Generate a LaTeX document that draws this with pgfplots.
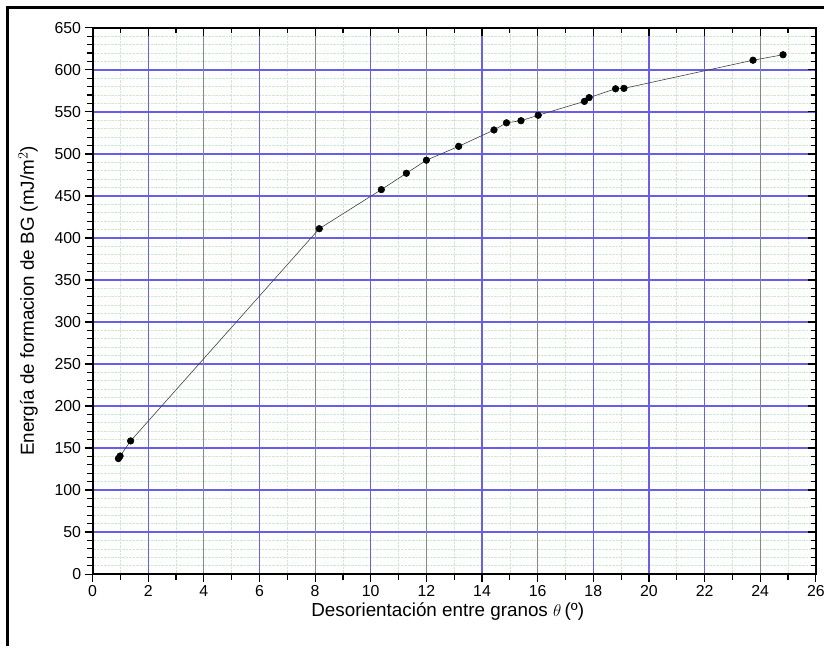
\documentclass[border=0pt]{standalone}
\usepackage{fontspec}
\setmainfont{Liberation Sans}
\usepackage{pgfplots}
\pgfplotsset{compat=1.18}
\definecolor{gridblue}{RGB}{105,95,230}
\definecolor{gridgray}{RGB}{135,135,135}
\definecolor{minorgreen}{RGB}{205,232,205}

\pgfplotstableread{
theta E
0.93 137.5
0.99 140.5
1.37 158.5
8.15 411
10.38 457.5
11.28 477
12.00 492.5
13.16 509
14.43 528.5
14.88 537
15.40 539.5
16.02 546
17.68 562.5
17.85 567
18.80 577.5
19.10 578
23.74 611.5
24.82 618
}\energia

\pgfplotsset{
  frame/.style={
    at={(93bp,72bp)}, anchor=south west,
    scale only axis, width=727bp, height=549bp,
    xmin=0, xmax=26, ymin=0, ymax=650},
  gridonly/.style={
    xticklabels={}, yticklabels={},
    axis line style={draw=none},
    major tick length=0pt,
    xmajorgrids, ymajorgrids}}

\begin{document}
\begin{tikzpicture}
\path (0,0) rectangle (828bp,649bp);
\draw[line width=3bp] (8bp,0) -- (8bp,641bp) -- (828bp,641bp);

% minor grid
\begin{axis}[frame, gridonly,
  xtick={1,3,...,25}, ytick={10,20,...,640},
  major grid style={minorgreen, densely dotted, line width=0.7bp}]
\end{axis}
% blue major grid
\begin{axis}[frame, gridonly,
  xtick={2,6,10,14,18,20,22}, ytick={50,100,...,600},
  major grid style={gridblue, line width=1.3bp}]
\end{axis}
% gray major grid
\begin{axis}[frame, gridonly,
  xtick={4,8,12,16,24}, ytick=\empty,
  major grid style={gridgray, line width=1bp}]
\end{axis}

% main axis: bottom/left ticks and labels, data
\begin{axis}[frame,
  xtick={0,2,...,26}, ytick={0,50,...,650},
  minor x tick num=1, minor y tick num=4,
  xtick pos=bottom, ytick pos=left,
  tick align=outside,
  major tick length=8bp, minor tick length=6bp,
  tick style={black, line width=1.2bp},
  axis line style={line width=2bp},
  tick label style={font=\fontsize{16}{19}\selectfont},
  /pgf/number format/assume math mode=true,
  xlabel={Desorientación entre granos $\theta$\,(º)},
  ylabel={Energía de formacion de BG (mJ/m$^{2}$)},
  label style={font=\fontsize{19}{22}\selectfont},
  xlabel style={at={(axis description cs:0.491,-0.069)}, anchor=center},
  ylabel style={at={(axis description cs:-0.089,0.5)}, anchor=center},
]
\addplot[black!75, line width=0.6bp, mark=*, mark size=3.3bp,
  mark options={black, fill=black}] table[x=theta, y=E] {\energia};
\end{axis}

% mirrored top/right ticks pointing inward
\begin{axis}[frame,
  xtick={0,2,...,26}, ytick={0,50,...,650},
  minor x tick num=1, minor y tick num=4,
  xtick pos=top, ytick pos=right,
  tick align=inside,
  major tick length=8bp, minor tick length=5bp,
  tick style={black, line width=1.2bp},
  axis line style={line width=2bp},
  xticklabels={}, yticklabels={},
]
\end{axis}
\end{tikzpicture}
\end{document}
